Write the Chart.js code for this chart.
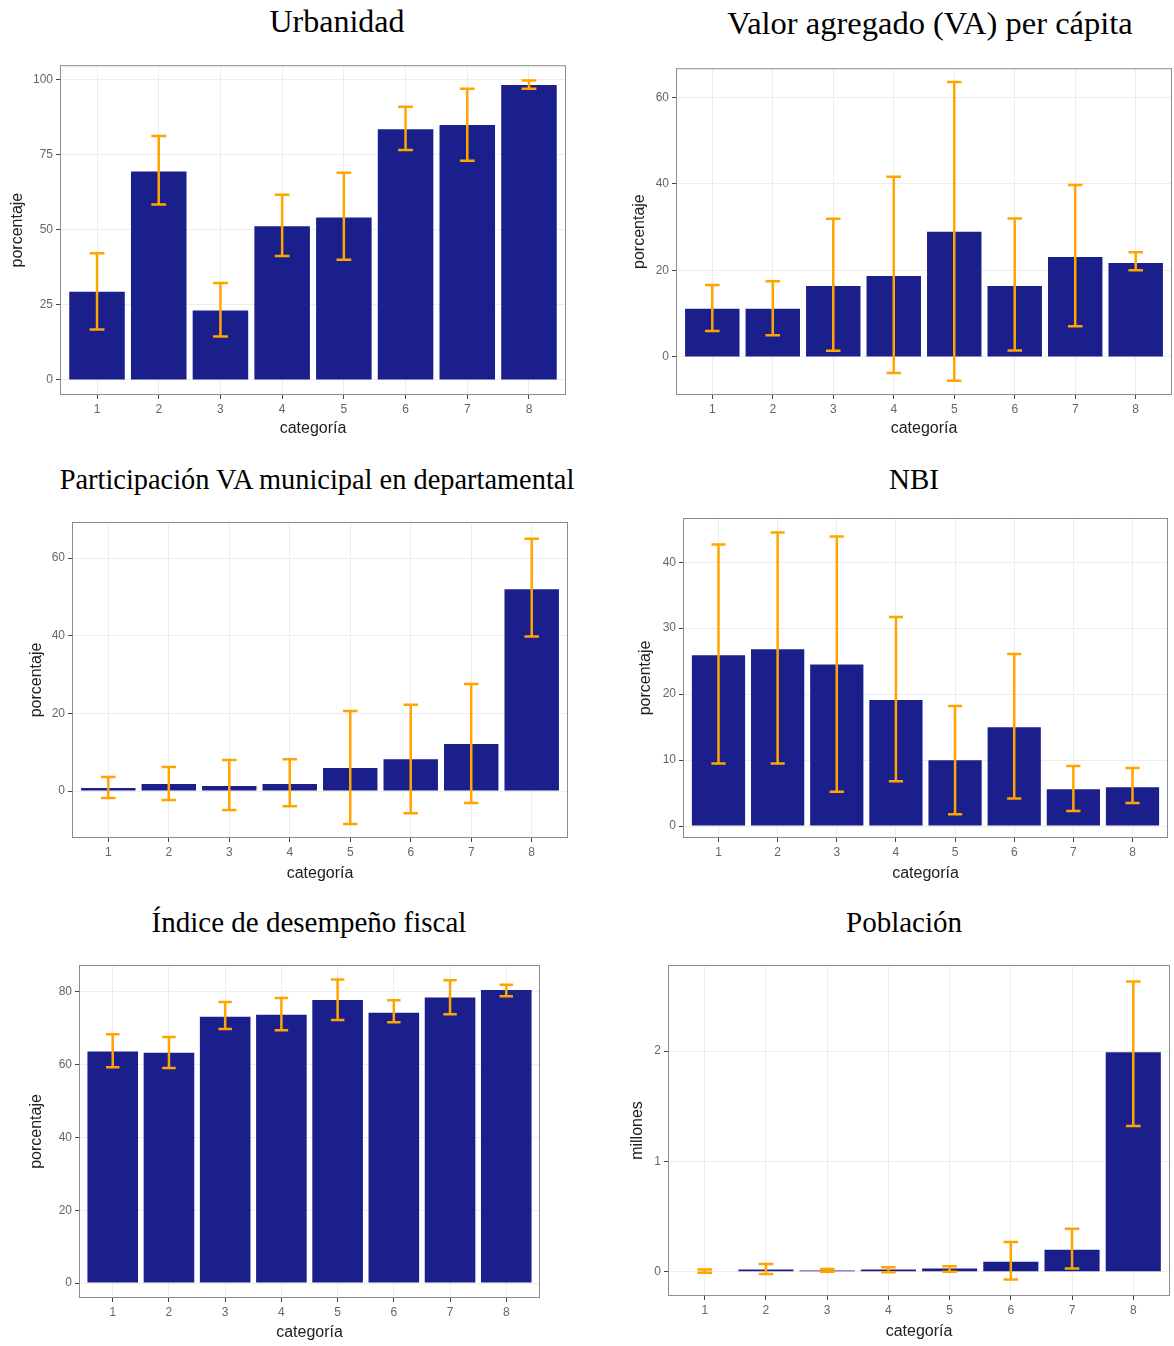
<!DOCTYPE html>
<html>
<head>
<meta charset="utf-8">
<script src="https://cdn.jsdelivr.net/npm/chart.js@4/dist/chart.umd.min.js"></script>
<style>
  body { margin: 0; background: #fff; width: 1174px; height: 1346px; position: relative; overflow: hidden; }
  .title { position: absolute; font-family: "Liberation Serif", "Times New Roman", serif; font-size: 29px; color: #000; transform: translateX(-50%); white-space: nowrap; }
  canvas { position: absolute; }
</style>
</head>
<body>
<div class="title" style="left:337px; top:3px; font-size:32px;">Urbanidad</div>
<div class="title" style="left:930px; top:5px; font-size:32.5px;">Valor agregado (VA) per cápita</div>
<div class="title" style="left:317px; top:464px; font-size:28.4px;">Participación VA municipal en departamental</div>
<div class="title" style="left:914px; top:463px;">NBI</div>
<div class="title" style="left:309px; top:906px;">Índice de desempeño fiscal</div>
<div class="title" style="left:904px; top:906px;">Población</div>

<canvas id="urbanidad" width="580" height="390" style="left:0; top:55px;"></canvas>
<canvas id="vaPerCapita" width="584" height="387" style="left:590px; top:58px;"></canvas>
<canvas id="participacion" width="580" height="385" style="left:0; top:505px;"></canvas>
<canvas id="nbi" width="584" height="385" style="left:590px; top:505px;"></canvas>
<canvas id="fiscal" width="580" height="396" style="left:0; top:950px;"></canvas>
<canvas id="poblacion" width="584" height="396" style="left:590px; top:950px;"></canvas>

<script>
// categories (x axis)
const categories = [1, 2, 3, 4, 5, 6, 7, 8];

// Urbanidad
const urbanidadValues = [29.4, 69.4, 23.1, 51.2, 54.1, 83.5, 84.9, 98.2];
const urbanidadLower = [16.8, 58.4, 14.5, 41.3, 40.0, 76.6, 73.0, 97.0];
const urbanidadUpper = [42.2, 81.2, 32.3, 61.7, 69.0, 91.0, 97.0, 99.7];
const urbanidadTicks = [0, 25, 50, 75, 100];

// Valor agregado per capita
const vaValues = [11.1, 11.1, 16.4, 18.7, 28.9, 16.4, 23.1, 21.7];
const vaLower = [6.0, 5.0, 1.4, -3.7, -5.5, 1.5, 7.1, 20.0];
const vaUpper = [16.6, 17.5, 31.9, 41.6, 63.5, 32.0, 39.7, 24.2];
const vaTicks = [0, 20, 40, 60];

// Participacion VA municipal en departamental
const partValues = [0.8, 1.8, 1.3, 1.8, 5.9, 8.2, 12.1, 52.0];
const partLower = [-1.8, -2.3, -4.9, -3.9, -8.5, -5.7, -3.1, 39.8];
const partUpper = [3.6, 6.2, 8.0, 8.2, 20.6, 22.2, 27.6, 65.0];
const partTicks = [0, 20, 40, 60];

// NBI
const nbiValues = [25.9, 26.8, 24.5, 19.1, 10.0, 15.0, 5.6, 5.9];
const nbiLower = [9.5, 9.5, 5.2, 6.8, 1.8, 4.2, 2.3, 3.5];
const nbiUpper = [42.7, 44.5, 43.9, 31.7, 18.2, 26.1, 9.1, 8.8];
const nbiTicks = [0, 10, 20, 30, 40];

// Indice de desempeno fiscal
const fiscalValues = [63.6, 63.3, 73.2, 73.7, 77.8, 74.3, 78.5, 80.5];
const fiscalLower = [59.3, 59.1, 69.8, 69.5, 72.3, 71.7, 73.9, 78.8];
const fiscalUpper = [68.4, 67.6, 77.2, 78.3, 83.4, 77.7, 83.2, 82.0];
const fiscalTicks = [0, 20, 40, 60, 80];

// Poblacion (millones)
const pobValues = [0.005, 0.02, 0.01, 0.02, 0.03, 0.09, 0.20, 1.99];
const pobLower = [-0.01, -0.02, 0.0, -0.005, 0.0, -0.07, 0.03, 1.32];
const pobUpper = [0.02, 0.07, 0.025, 0.04, 0.05, 0.27, 0.39, 2.63];
const pobTicks = [0, 1, 2];

const barColor = '#1b1f8c';
const errColor = '#ffa500';

// draws the error bars and the panel border
const errorBarPlugin = {
    id: 'errorBars',
    afterDatasetsDraw(chart, args, opts) {
        const ctx = chart.ctx;
        const xs = chart.scales.x;
        const ys = chart.scales.y;
        const half = (xs.getPixelForValue(1.12) - xs.getPixelForValue(1));
        ctx.save();
        ctx.strokeStyle = errColor;
        ctx.lineWidth = 2.5;
        opts.lower.forEach(function(lo, i) {
            const x = xs.getPixelForValue(categories[i]);
            const yLo = ys.getPixelForValue(lo);
            const yHi = ys.getPixelForValue(opts.upper[i]);
            ctx.beginPath();
            ctx.moveTo(x, yLo);
            ctx.lineTo(x, yHi);
            ctx.moveTo(x - half, yLo);
            ctx.lineTo(x + half, yLo);
            ctx.moveTo(x - half, yHi);
            ctx.lineTo(x + half, yHi);
            ctx.stroke();
        });
        const a = chart.chartArea;
        ctx.strokeStyle = '#8c8c8c';
        ctx.lineWidth = 1;
        ctx.strokeRect(a.left + 0.5, a.top + 0.5, a.right - a.left - 1, a.bottom - a.top - 1);
        ctx.restore();
    }
};

function makePanel(id, values, lower, upper, ticks, yMin, yMax, yTitle, geo) {
    const canvas = document.getElementById(id);
    return new Chart(canvas, {
        type: 'bar',
        data: {
            datasets: [{
                data: categories.map((c, i) => ({ x: c, y: values[i] })),
                backgroundColor: barColor,
                borderWidth: 0,
                barPercentage: 0.9,
                categoryPercentage: 1.0
            }]
        },
        options: {
            responsive: false,
            animation: false,
            layout: { padding: { top: geo.top, right: geo.right, left: 0, bottom: 0 } },
            plugins: {
                legend: { display: false },
                tooltip: { enabled: false },
                errorBars: { lower: lower, upper: upper }
            },
            scales: {
                x: {
                    type: 'linear',
                    min: 0.4,
                    max: 8.6,
                    offset: false,
                    afterBuildTicks: function(scale) {
                        scale.ticks = categories.map(v => ({ value: v }));
                    },
                    afterFit: function(scale) { scale.height = geo.xh; },
                    border: { display: false },
                    grid: { offset: false, color: '#ededed', tickColor: '#444', tickLength: 4, lineWidth: 1 },
                    ticks: {
                        color: '#666',
                        font: { family: 'Liberation Sans, Arial, sans-serif', size: 12 },
                        padding: 3,
                        maxRotation: 0
                    },
                    title: {
                        display: true,
                        text: 'categoría',
                        color: '#222',
                        font: { family: 'Liberation Sans, Arial, sans-serif', size: 16 },
                        padding: { top: 0, bottom: geo.xtp }
                    }
                },
                y: {
                    min: yMin,
                    max: yMax,
                    afterBuildTicks: function(scale) {
                        scale.ticks = ticks.map(v => ({ value: v }));
                    },
                    afterFit: function(scale) { scale.width = geo.yw; },
                    border: { display: false },
                    grid: { color: '#ededed', tickColor: '#444', tickLength: 4, lineWidth: 1 },
                    ticks: {
                        color: '#666',
                        font: { family: 'Liberation Sans, Arial, sans-serif', size: 12 },
                        padding: 3
                    },
                    title: {
                        display: true,
                        text: yTitle,
                        color: '#222',
                        font: { family: 'Liberation Sans, Arial, sans-serif', size: 16 },
                        padding: { top: geo.ytp, bottom: 0 }
                    }
                }
            }
        },
        plugins: [errorBarPlugin]
    });
}

makePanel('urbanidad', urbanidadValues, urbanidadLower, urbanidadUpper, urbanidadTicks, -5, 104.8, 'porcentaje',
    { top: 10, right: 14, yw: 60, xh: 50, ytp: 8, xtp: 7 });
makePanel('vaPerCapita', vaValues, vaLower, vaUpper, vaTicks, -8.8, 66.7, 'porcentaje',
    { top: 10, right: 2, yw: 86, xh: 50, ytp: 40, xtp: 7 });
makePanel('participacion', partValues, partLower, partUpper, partTicks, -12.1, 69.3, 'porcentaje',
    { top: 17, right: 12, yw: 72, xh: 52, ytp: 27, xtp: 7 });
makePanel('nbi', nbiValues, nbiLower, nbiUpper, nbiTicks, -1.8, 46.7, 'porcentaje',
    { top: 13, right: 6, yw: 93, xh: 52, ytp: 46, xtp: 7 });
makePanel('fiscal', fiscalValues, fiscalLower, fiscalUpper, fiscalTicks, -4.1, 87.4, 'porcentaje',
    { top: 15, right: 40, yw: 79, xh: 48, ytp: 27, xtp: 4 });
makePanel('poblacion', pobValues, pobLower, pobUpper, pobTicks, -0.22, 2.78, 'millones',
    { top: 15, right: 4, yw: 78, xh: 50, ytp: 38, xtp: 5 });
</script>
</body>
</html>
